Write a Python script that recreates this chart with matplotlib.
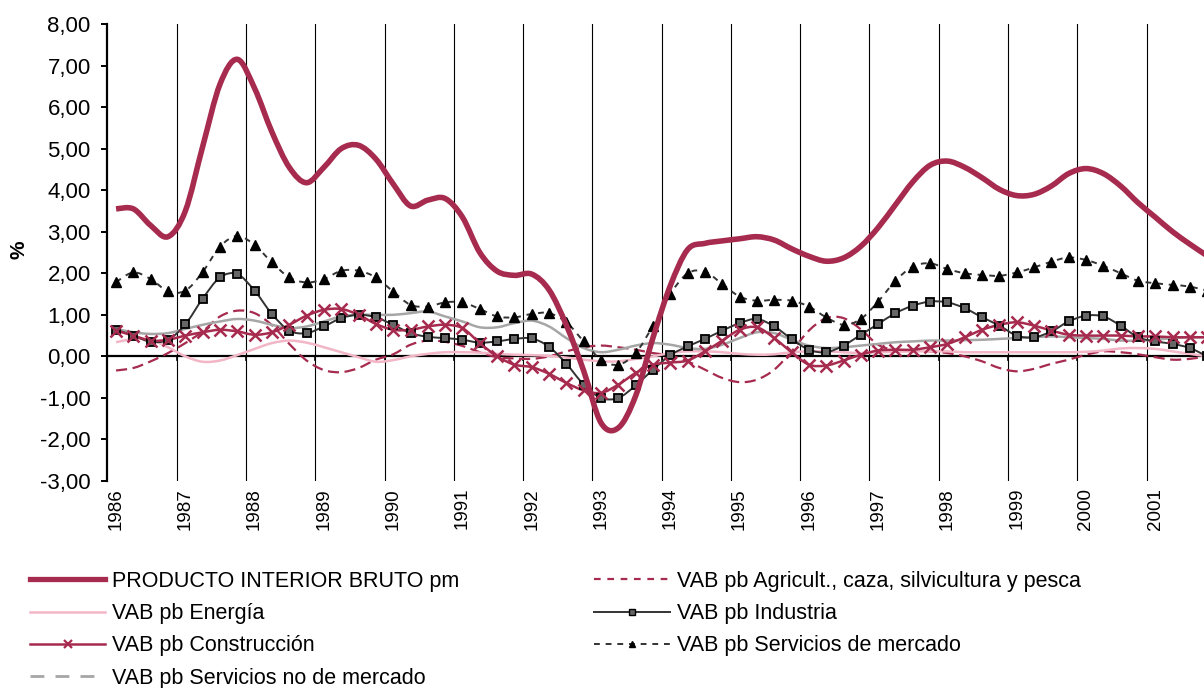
import matplotlib
matplotlib.use('Agg')
import matplotlib.pyplot as plt
from matplotlib.path import Path
from matplotlib.patches import PathPatch
from matplotlib.lines import Line2D

plt.rcParams['font.family'] = ['Liberation Sans', 'DejaVu Sans']

# quarterly data 1986Q1 - 2001Q4
years = list(range(1986, 2002))
pib = [3.55, 3.55, 3.15, 2.88, 3.5, 5.05, 6.55, 7.15, 6.45, 5.4, 4.55, 4.18,
       4.55, 5.0, 5.08, 4.75, 4.15, 3.62, 3.76, 3.8, 3.35, 2.5, 2.05, 1.95,
       1.98, 1.6, 0.75, -0.35, -1.6, -1.72, -0.95, 0.45, 1.7, 2.57, 2.72, 2.78,
       2.83, 2.88, 2.8, 2.59, 2.41, 2.29, 2.37, 2.65, 3.1, 3.65, 4.2, 4.6,
       4.7, 4.55, 4.3, 4.02, 3.87, 3.9, 4.1, 4.4, 4.52, 4.4, 4.1, 3.7,
       3.35, 3.0, 2.7, 2.42]
agricultura = [-0.34, -0.28, -0.12, 0.08, 0.32, 0.6, 0.96, 1.1, 1.04, 0.75, 0.3, -0.1,
               -0.33, -0.38, -0.28, -0.08, 0.05, 0.28, 0.38, 0.35, 0.25, 0.1, -0.02, -0.05,
               -0.06, 0.0, 0.12, 0.22, 0.26, 0.22, 0.16, 0.08, 0.02, -0.12, -0.32, -0.52,
               -0.62, -0.56, -0.32, 0.12, 0.62, 0.92, 0.92, 0.65, 0.28, 0.15, 0.15, 0.12,
               0.08, 0.0, -0.12, -0.28, -0.36, -0.3, -0.18, -0.08, 0.04, 0.12, 0.1, 0.05,
               -0.02, -0.08, -0.06, 0.0]
energia = [0.34, 0.42, 0.40, 0.22, 0.0, -0.13, -0.10, 0.03, 0.18, 0.32, 0.38, 0.33,
           0.22, 0.10, -0.02, -0.13, -0.09, 0.0, 0.06, 0.1, 0.1, 0.09, 0.06, 0.04,
           0.03, 0.01, -0.03, -0.08, -0.12, -0.12, -0.06, 0.0, 0.08, 0.12, 0.12, 0.1,
           0.06, 0.04, 0.05, 0.1, 0.12, 0.12, 0.1, 0.08, 0.1, 0.11, 0.12, 0.12,
           0.12, 0.1, 0.1, 0.1, 0.1, 0.1, 0.1, 0.1, 0.11, 0.14, 0.19, 0.2,
           0.18, 0.12, 0.06, 0.0]
industria = [0.64, 0.50, 0.35, 0.40, 0.77, 1.39, 1.90, 1.98, 1.58, 1.02, 0.62, 0.56,
             0.72, 0.92, 1.00, 0.94, 0.76, 0.56, 0.47, 0.44, 0.40, 0.33, 0.36, 0.42,
             0.43, 0.23, -0.18, -0.68, -1.0, -1.0, -0.70, -0.32, 0.03, 0.24, 0.42, 0.62,
             0.80, 0.90, 0.72, 0.42, 0.16, 0.10, 0.26, 0.52, 0.78, 1.04, 1.22, 1.32,
             1.30, 1.16, 0.94, 0.74, 0.50, 0.46, 0.60, 0.84, 0.98, 0.96, 0.74, 0.46,
             0.36, 0.30, 0.20, 0.0]
construccion = [0.62, 0.50, 0.38, 0.40, 0.50, 0.58, 0.64, 0.60, 0.52, 0.58, 0.76, 0.98,
                1.12, 1.14, 1.00, 0.78, 0.64, 0.64, 0.72, 0.76, 0.68, 0.32, 0.0, -0.2,
                -0.26, -0.42, -0.64, -0.82, -0.88, -0.68, -0.40, -0.20, -0.15, -0.1, 0.12, 0.38,
                0.64, 0.70, 0.44, 0.10, -0.2, -0.22, -0.1, 0.04, 0.14, 0.16, 0.16, 0.22,
                0.3, 0.46, 0.64, 0.76, 0.82, 0.74, 0.62, 0.52, 0.5, 0.5, 0.5, 0.48,
                0.48, 0.46, 0.46, 0.46]
serv_mercado = [1.79, 2.02, 1.86, 1.57, 1.58, 2.03, 2.64, 2.90, 2.68, 2.26, 1.90, 1.78,
                1.86, 2.06, 2.06, 1.90, 1.56, 1.24, 1.20, 1.30, 1.30, 1.14, 0.96, 0.94,
                1.02, 1.04, 0.82, 0.36, -0.08, -0.20, 0.08, 0.74, 1.50, 2.00, 2.04, 1.74,
                1.44, 1.34, 1.36, 1.34, 1.20, 0.94, 0.76, 0.90, 1.32, 1.82, 2.16, 2.24,
                2.10, 2.00, 1.96, 1.94, 2.02, 2.14, 2.28, 2.38, 2.32, 2.18, 2.00, 1.82,
                1.76, 1.72, 1.68, 1.58]
serv_no_mercado = [0.66, 0.58, 0.54, 0.56, 0.66, 0.76, 0.84, 0.9, 0.86, 0.76, 0.68, 0.72,
                   0.84, 0.96, 1.0, 1.0, 1.0, 1.04, 1.08, 0.96, 0.84, 0.7, 0.7, 0.8,
                   0.86, 0.72, 0.44, 0.2, 0.1, 0.16, 0.26, 0.32, 0.28, 0.2, 0.18, 0.28,
                   0.44, 0.58, 0.56, 0.4, 0.26, 0.2, 0.22, 0.26, 0.3, 0.34, 0.36, 0.38,
                   0.38, 0.39, 0.4, 0.42, 0.44, 0.46, 0.48, 0.46, 0.44, 0.42, 0.38, 0.38,
                   0.4, 0.44, 0.46, 0.46]
yticks = [8, 7, 6, 5, 4, 3, 2, 1, 0, -1, -2, -3]

crimson = '#A62B4E'
pink = '#F2B6C6'
dark = '#333333'
grey = '#A6A6A6'

x = [i + 0.5 for i in range(len(pib))]


def smooth(xs, ys):
    # excel-like smoothed line (catmull-rom bezier)
    n = len(xs)
    verts = [(xs[0], ys[0])]
    codes = [Path.MOVETO]
    for i in range(n - 1):
        a = max(i - 1, 0)
        d = min(i + 2, n - 1)
        c1 = (xs[i] + (xs[i + 1] - xs[a]) / 6, ys[i] + (ys[i + 1] - ys[a]) / 6)
        c2 = (xs[i + 1] - (xs[d] - xs[i]) / 6, ys[i + 1] - (ys[d] - ys[i]) / 6)
        verts += [c1, c2, (xs[i + 1], ys[i + 1])]
        codes += [Path.CURVE4] * 3
    return Path(verts, codes)


fig = plt.figure(figsize=(12.04, 6.88), dpi=100)
ax = fig.add_axes([107.4 / 1204, 1 - 481 / 688, 1108.5 / 1204, 457 / 688])
ax.set_xlim(0, 64)
ax.set_ylim(-3, 8)

# vertical gridlines every year
for k in range(4, 64, 4):
    ax.axvline(k, color='black', lw=0.8, zorder=1)
    ax.plot([k, k], [0, -0.09], color='black', lw=1.2, zorder=2)
ax.axhline(0, color='black', lw=1.6, zorder=2)

series = [
    (pib, crimson, 4.0, '-', 9),
    (agricultura, crimson, 1.6, (0, (5, 2.5)), 3),
    (energia, pink, 1.8, '-', 3),
    (industria, dark, 1.4, '-', 4),
    (construccion, crimson, 1.8, '-', 5),
    (serv_mercado, dark, 1.4, (0, (3, 3)), 4),
    (serv_no_mercado, grey, 1.8, '-', 3),
]
for vals, col, lw, ls, z in series:
    ax.add_patch(PathPatch(smooth(x, vals), fill=False, ec=col, lw=lw, ls=ls,
                           joinstyle='round', capstyle='butt', zorder=z))

ax.plot(x, industria, ls='none', marker='s', ms=5.5, mfc='#666666', mec='black', mew=1.3, zorder=6)
ax.plot(x, construccion, ls='none', marker='x', ms=8, mec=crimson, mew=1.8, zorder=6)
ax.plot(x, serv_mercado, ls='none', marker='^', ms=6.5, mfc='black', mec='black', zorder=6)

for s in ['top', 'right', 'bottom']:
    ax.spines[s].set_visible(False)
ax.spines['left'].set_linewidth(1.6)
ax.set_yticks(yticks)
ax.set_yticklabels([f'{v:.2f}'.replace('.', ',') for v in yticks], fontsize=16)
ax.tick_params(axis='y', direction='out', length=4, width=1.4, pad=8)

ax.set_xticks([4 * i + 0.5 for i in range(len(years))])
ax.set_xticklabels([str(y) for y in years], rotation=90, fontsize=13.5)
ax.tick_params(axis='x', length=0, pad=5)

fig.text(0.016, 1 - 250 / 688, '%', rotation=90, fontsize=15, fontweight='bold',
         ha='center', va='center')

handles = [
    Line2D([], [], color=crimson, lw=3.8),
    Line2D([], [], color=pink, lw=1.8),
    Line2D([], [], color=crimson, lw=1.8, marker='x', ms=6, mew=1.6),
    Line2D([], [], color=grey, lw=2, ls=(0, (5, 4))),
    Line2D([], [], color=crimson, lw=1.6, ls=(0, (3, 3))),
    Line2D([], [], color=dark, lw=1.4, marker='s', ms=4, mfc='#666666', mec='black'),
    Line2D([], [], color=dark, lw=1.4, ls=(0, (3, 3)), marker='^', ms=5, mfc='black', mec='black'),
]
labels = ['PRODUCTO INTERIOR BRUTO pm', 'VAB pb Energía', 'VAB pb Construcción',
          'VAB pb Servicios no de mercado', 'VAB pb Agricult., caza, silvicultura y pesca',
          'VAB pb Industria', 'VAB pb Servicios de mercado']
fig.legend(handles, labels, loc='upper left', bbox_to_anchor=(30 / 1204, 1 - 571 / 688),
           ncol=2, frameon=False, fontsize=15.5, handlelength=3.5, handletextpad=0.33,
           columnspacing=6.25, labelspacing=0.52, borderpad=0, borderaxespad=0)

fig.savefig('out.png', dpi=100)
